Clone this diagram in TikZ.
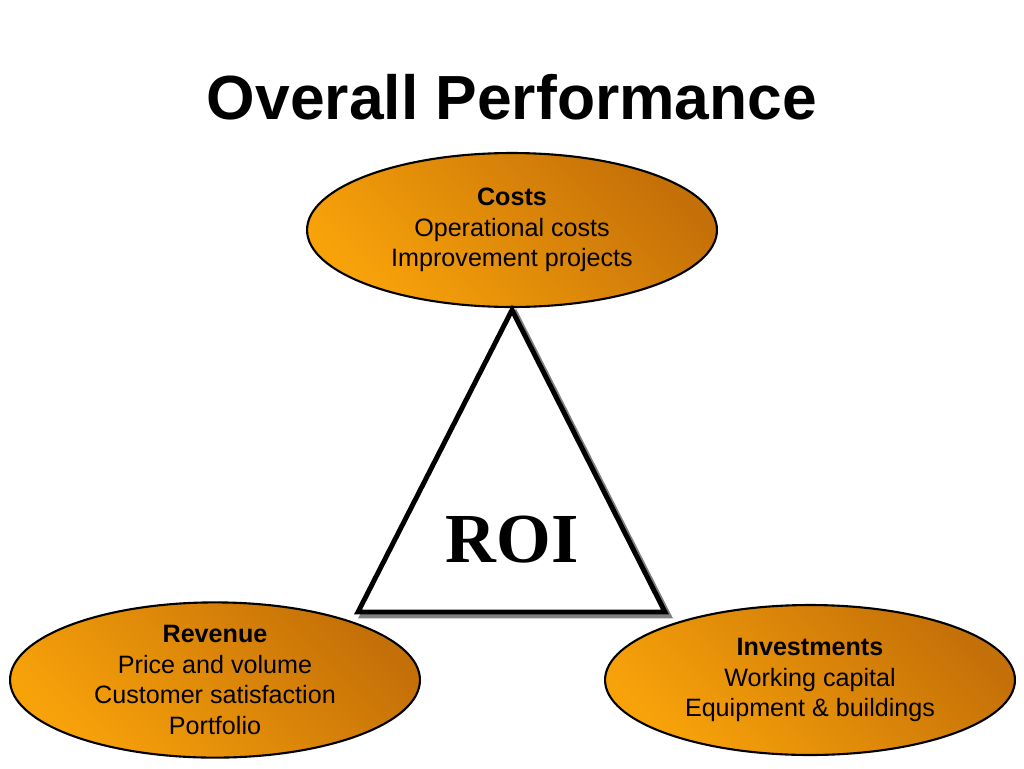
\documentclass[tikz,border=0pt]{standalone}
\usepackage{fontspec}
\setmainfont{Liberation Sans}
\newfontfamily\roifont{Liberation Serif}
\usetikzlibrary{shapes.geometric}
\definecolor{oval_light}{RGB}{248,162,10}
\definecolor{oval_dark}{RGB}{196,112,8}
\begin{document}
\begin{tikzpicture}[x=0.02cm,y=-0.02cm]
    \tikzstyle{oval}=[draw=black, line width=1.2pt, ellipse, left color=oval_light, right color=oval_dark, shading angle=135, inner sep=0pt, align=center, font=\fontsize{14.3}{17.5}\selectfont]
    \tikzstyle{tri}=[line width=2.8pt, line join=miter]

    \useasboundingbox (0,0) rectangle (1024,768);
    \node[font=\fontsize{35.5}{40}\selectfont\bfseries] (title) at (512,97) {Overall Performance};

    \node[oval, minimum width=8.2cm, minimum height=3.08cm] (costs) at (512,230)
      {\textbf{Costs}\\Operational costs\\Improvement projects};
    \node[oval, minimum width=8.2cm, minimum height=3.08cm] (revenue) at (215,680)
      {\textbf{Revenue}\\Price and volume\\Customer satisfaction\\Portfolio};
    \node[oval, minimum width=8.2cm, minimum height=3.0cm] (invest) at (810,680)
      {\textbf{Investments}\\Working capital\\Equipment \& buildings};

    \coordinate (apex) at (512,310);
    \coordinate (bl) at (358,612);
    \coordinate (br) at (665,612);
    \draw[tri, gray] ([shift={(4,4)}]apex) -- ([shift={(4,4)}]br) -- ([shift={(4,4)}]bl) -- cycle;
    \draw[tri, fill=white] (apex) -- (br) -- (bl) -- cycle;
    \node[font=\roifont\fontsize{40}{46}\selectfont\bfseries] (roi) at (512,540) {ROI};
\end{tikzpicture}
\end{document}
